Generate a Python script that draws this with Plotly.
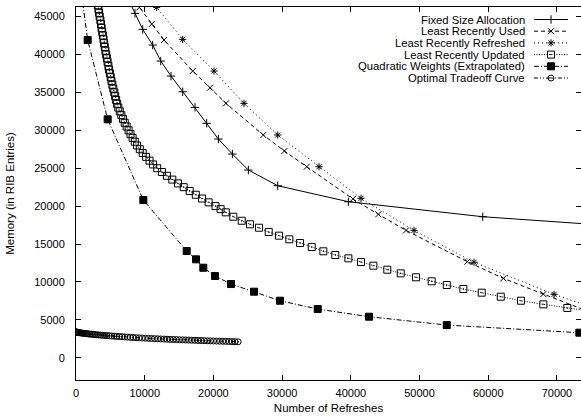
import plotly.graph_objects as go

# ---------------- data ----------------
fixed_x = [7500, 8590, 9710, 11160, 12330, 13830, 15530, 17320, 19020, 20720, 22760,
           25090, 29360, 39640, 59200, 92000]
fixed_y = [47500, 45430, 43320, 41250, 39140, 37160, 35090, 33030, 30920, 28850, 26870,
           24760, 22690, 20580, 18600, 16530]

lru_x = [7500, 9220, 11020, 12810, 16990, 19510, 21830, 27260, 30330, 33580, 40300,
         44000, 48030, 56960, 62200, 68020, 76000]
lru_y = [48320, 46220, 44020, 41910, 37820, 35620, 33560, 29380, 27270, 25200, 20950,
         18920, 16800, 12670, 10470, 8400, 5600]

lrr_x = [7900, 11740, 15530, 20090, 24450, 29360, 35370, 41480, 49200, 57930, 69580, 77000]
lrr_y = [50500, 46220, 42000, 37820, 33560, 29380, 25200, 21030, 16800, 12590, 8360, 6050]

lrupd_x = [3090, 3188, 3275, 3362, 3450, 3552, 3639, 3726, 3814, 3916, 4003, 4090, 4192,
           4280, 4396, 4498, 4600, 4716, 4818, 4934, 5051, 5167, 5298, 5429, 5575, 5700,
           5840, 5990, 6160, 6370, 6600, 6840, 7090, 7365, 7656, 7933, 8239, 8559, 8894,
           9287, 9709, 10204, 10699, 11223, 11819, 12504, 13231, 14017, 14832, 15677,
           16550, 17438, 18350, 19300, 20300, 21050, 21800, 22900, 24120, 25330, 26640,
           28050, 29550, 31050, 32610, 34310, 36000, 37740, 39640, 41480, 43280, 45310,
           47260, 49490, 51770, 53960, 56380, 59050, 61820, 64770, 68020, 71510, 75200]
lrupd_y = [47000, 46500, 46000, 45500, 45000, 44500, 44000, 43500, 43000, 42500, 42000,
           41500, 41000, 40500, 40000, 39500, 39000, 38500, 38000, 37500, 37000, 36500,
           36000, 35500, 35000, 34500, 34000, 33500, 33000, 32500, 32000, 31500, 31000,
           30500, 30000, 29500, 29000, 28500, 28000, 27500, 27000, 26500, 26000, 25500,
           25000, 24500, 24000, 23500, 23000, 22500, 22000, 21500, 21000, 20500, 20000,
           19600, 19180, 18600, 18070, 17600, 17150, 16580, 16100, 15620, 15130, 14600,
           14040, 13550, 13110, 12620, 12140, 11610, 11130, 10610, 10080, 9590, 9060,
           8580, 8050, 7520, 7040, 6560, 6100]

quad_x = [600, 1700, 4610, 9800, 16110, 17470, 18530, 20230, 22560, 25910, 29690,
          35180, 42650, 53960, 73260]
quad_y = [49400, 41910, 31450, 20800, 14080, 12980, 11870, 10780, 9720, 8710, 7520,
          6420, 5410, 4310, 3300]

opt_x = [0, 50, 100, 200, 300, 400, 550, 700, 850, 1000, 1200, 1400, 1600, 1800, 2000,
         2250, 2500, 2750, 3000, 3300, 3600, 3900, 4200, 4500, 4850, 5200, 5550, 5900,
         6300, 6700, 7100, 7500, 7900, 8300, 8750, 9200, 9650, 10100, 10550, 11000,
         11450, 11900, 12350, 12800, 13250, 13700, 14150, 14600, 15050, 15500, 15950,
         16400, 16850, 17300, 17750, 18200, 18650, 19100, 19550, 20000, 20450, 20900,
         21350, 21800, 22250, 22700, 23150, 23600]
opt_y = [3400, 3390, 3380, 3360, 3340, 3320, 3293, 3272, 3251, 3230, 3208, 3186, 3164,
         3142, 3120, 3098, 3075, 3053, 3030, 3006, 2982, 2958, 2936, 2915, 2890, 2866,
         2842, 2817, 2792, 2768, 2744, 2720, 2696, 2672, 2645, 2620, 2598, 2576, 2555,
         2535, 2515, 2495, 2476, 2458, 2440, 2422, 2405, 2389, 2373, 2357, 2341, 2326,
         2310, 2295, 2279, 2264, 2250, 2237, 2224, 2210, 2197, 2183, 2170, 2156, 2142,
         2128, 2114, 2100]

series_names = ["Fixed Size Allocation", "Least Recently Used", "Least Recently Refreshed",
                "Least Recently Updated", "Quadratic Weights (Extrapolated)",
                "Optimal Tradeoff Curve"]

x_ticks = [0, 10000, 20000, 30000, 40000, 50000, 60000, 70000]
y_ticks = [0, 5000, 10000, 15000, 20000, 25000, 30000, 35000, 40000, 45000]

# ---------------- styling ----------------
FONT = "Liberation Sans, Arial, Helvetica, sans-serif"
BLACK = "#000000"
W, H = 581, 418
ML, MR, MT, MB = 76, 0, 7, 38

styles = [
    dict(dash="solid", symbol="cross-thin", size=6),
    dict(dash="4px,3px", symbol="x-thin", size=6),
    dict(dash="1px,3px", symbol="asterisk", size=6),
    dict(dash="1px,1.5px", symbol="square-open-dot", size=7),
    dict(dash="5px,2px,1px,2px", symbol="square", size=7),
    dict(dash="4px,2px,1px,2px,1px,2px", symbol="circle-open-dot", size=6),
]
data = [(fixed_x, fixed_y), (lru_x, lru_y), (lrr_x, lrr_y), (lrupd_x, lrupd_y),
        (quad_x, quad_y), (opt_x, opt_y)]

fig = go.Figure()
for (xs, ys), name, st in zip(data, series_names, styles):
    fig.add_trace(go.Scatter(
        x=xs, y=ys, mode="lines+markers", name=name, showlegend=False,
        line=dict(color=BLACK, width=1, dash=st["dash"]),
        marker=dict(symbol=st["symbol"], size=st["size"], color=BLACK,
                    line=dict(color=BLACK, width=1)),
        cliponaxis=True,
    ))

# ---------------- key (drawn on a pixel-space overlay axis) ----------------
KEY_TEXT_RIGHT = 527
KEY_LINE_X = [534, 568]
KEY_MARK_X = 551
KEY_ROW0, KEY_ROW_STEP = 19.5, 11.7
annotations = []
for i, (name, st) in enumerate(zip(series_names, styles)):
    ry = KEY_ROW0 + i * KEY_ROW_STEP
    fig.add_trace(go.Scatter(
        x=KEY_LINE_X, y=[ry, ry], xaxis="x2", yaxis="y2", mode="lines",
        line=dict(color=BLACK, width=1, dash=st["dash"]), showlegend=False,
        hoverinfo="skip"))
    fig.add_trace(go.Scatter(
        x=[KEY_MARK_X], y=[ry], xaxis="x2", yaxis="y2", mode="markers",
        marker=dict(symbol=st["symbol"], size=st["size"], color=BLACK,
                    line=dict(color=BLACK, width=1)),
        showlegend=False, hoverinfo="skip"))
    annotations.append(dict(
        x=KEY_TEXT_RIGHT, y=ry, xref="x2", yref="y2", text=name, showarrow=False,
        xanchor="right", yanchor="middle", font=dict(family=FONT, size=11.3, color=BLACK)))

axis_common = dict(
    showline=True, linecolor=BLACK, linewidth=1, mirror="allticks",
    ticks="inside", ticklen=5, tickwidth=1, tickcolor=BLACK,
    showgrid=False, zeroline=False,
    tickfont=dict(family=FONT, size=11, color=BLACK),
)

fig.update_layout(
    width=W, height=H,
    margin=dict(l=ML, r=MR, t=MT, b=MB, pad=0),
    paper_bgcolor="white", plot_bgcolor="white",
    showlegend=False,
    font=dict(family=FONT, color=BLACK),
    xaxis=dict(range=[0, 73500], tickvals=x_ticks, ticktext=[str(v) for v in x_ticks],
               title=dict(text="Number of Refreshes", font=dict(family=FONT, size=11.5),
                          standoff=5),
               ticklabelstandoff=3, automargin=False, **axis_common),
    yaxis=dict(range=[-2940, 46270], tickvals=y_ticks, ticktext=[str(v) for v in y_ticks],
               title=dict(text="Memory (in RIB Entries)", font=dict(family=FONT, size=11.5),
                          standoff=17),
               ticklabelstandoff=8, automargin=False, **axis_common),
    xaxis2=dict(overlaying="x", range=[ML, W - MR], visible=False, fixedrange=True),
    yaxis2=dict(overlaying="y", range=[H - MB, MT], visible=False, fixedrange=True),
    annotations=annotations,
)

fig.write_html("out.html")
